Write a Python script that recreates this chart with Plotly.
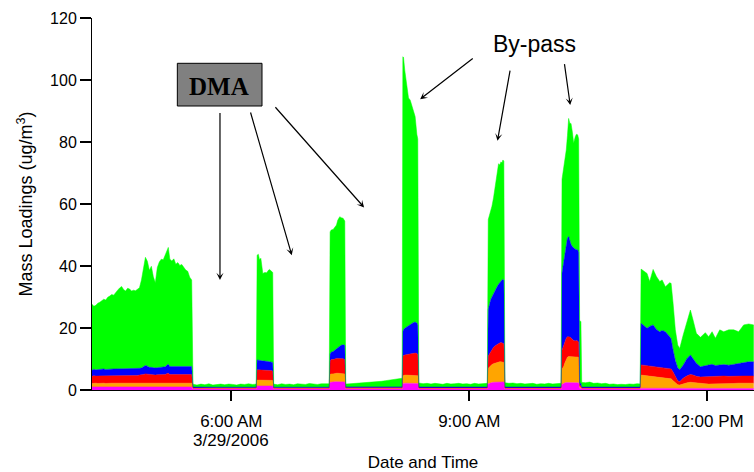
import plotly.graph_objects as go
from datetime import datetime, timedelta

DAY = datetime(2006, 3, 29)

# Sample times, minutes after midnight on 3/29/2006
t_min = [
    # by-pass period 1
    254.6, 256.0, 257.5, 259.0, 260.5, 262.0, 263.5, 265.0, 266.5, 268.0,
    269.5, 271.0, 272.5, 274.0, 275.5, 277.0, 278.5, 280.0, 281.5, 283.0,
    284.5, 286.0, 287.5, 289.0, 290.5, 292.0, 293.5, 295.0, 296.5, 298.0,
    299.5, 301.0, 302.5, 304.0, 305.5, 307.0, 308.5, 310.0, 311.5, 312.3,
    313.5, 315.0, 316.5, 318.0, 319.5, 321.0, 322.5, 324.0, 325.5, 327.0,
    328.5, 330.0,
    # DMA 1
    331.0, 334.0, 337.0, 340.0, 343.0, 346.0, 349.0, 352.0, 355.0, 358.0,
    361.0, 364.0, 367.0, 370.0, 373.0, 376.0, 378.8,
    # by-pass 2
    379.5, 380.4, 381.3, 382.3, 383.2, 383.8, 385.3, 386.8, 388.0, 388.8,
    390.6, 391.3,
    # DMA 2
    392.0, 395.0, 398.0, 401.0, 404.0, 407.0, 410.0, 413.0, 416.0, 419.0,
    422.0, 425.0, 428.0, 431.0, 434.0,
    # by-pass 3
    434.7, 435.5, 437.0, 438.5, 439.5, 440.5, 442.0, 443.0, 444.5, 445.8,
    # DMA 3
    446.5, 449.5, 452.5, 455.5, 458.5, 461.5, 464.5, 467.5, 470.5, 473.5,
    476.5, 479.5, 482.5, 485.5, 488.5, 489.2,
    # by-pass 4
    489.7, 490.2, 491.2, 492.2, 493.2, 494.0, 495.3, 496.5, 497.8, 499.0,
    500.3, 501.0,
    # DMA 4
    501.8, 505.0, 508.0, 511.0, 514.0, 517.0, 520.0, 523.0, 526.0, 529.0,
    532.0, 535.0, 538.0, 541.0, 544.0, 547.0, 550.0, 553.6,
    # by-pass 5
    554.3, 555.3, 556.2, 557.1, 558.3, 559.6, 560.9, 562.1, 563.0, 563.9,
    564.7, 565.4, 566.1,
    # DMA 5
    566.9, 570.0, 573.0, 576.0, 579.0, 582.0, 585.0, 588.0, 591.0, 594.0,
    597.0, 600.0, 603.0, 606.0, 609.4,
    # by-pass 6
    610.1, 611.3, 612.3, 613.3, 614.2, 615.1, 616.0, 616.9, 618.0, 618.9,
    620.1, 621.0, 621.9, 622.7, 623.4, 624.4,
    # DMA 6
    625.0, 628.0, 631.0, 634.0, 637.0, 640.0, 643.0, 646.0, 649.0, 652.0,
    655.0, 658.0, 661.0, 664.0, 667.0, 669.2,
    # by-pass 7
    669.9, 671.8, 674.4, 676.4, 679.0, 681.5, 684.0, 685.8, 688.3, 691.5,
    692.6, 694.1, 695.8, 697.6, 699.1, 701.7, 704.7, 707.2, 709.2, 711.7,
    714.8, 718.5, 721.0, 723.6, 726.1, 729.4, 732.4, 736.2, 740.0, 743.7,
    747.5, 751.3, 755.1,
]

# Chloride (ug/m3)
chl = [
    1.0, 1.0, 1.0, 1.0, 1.0, 1.0, 1.0, 1.0, 1.0, 1.0,
    1.0, 1.0, 1.0, 1.0, 1.0, 1.0, 1.0, 1.0, 1.0, 1.0,
    1.0, 1.0, 1.0, 1.0, 1.0, 1.0, 1.0, 1.0, 1.0, 1.0,
    1.0, 1.0, 1.0, 1.0, 1.0, 1.0, 1.0, 1.0, 1.0, 1.0,
    1.0, 1.0, 1.0, 1.0, 1.0, 1.0, 1.0, 1.0, 1.0, 1.0,
    1.0, 1.0,
    0.5, 0.5, 0.5, 0.5, 0.5, 0.5, 0.5, 0.5, 0.5, 0.5,
    0.5, 0.5, 0.5, 0.5, 0.5, 0.5, 0.5,
    1.3, 1.3, 1.3, 1.3, 1.3, 1.3, 1.3, 1.3, 1.3, 1.3,
    1.3, 1.3,
    0.5, 0.5, 0.5, 0.5, 0.5, 0.5, 0.5, 0.5, 0.5, 0.5,
    0.5, 0.5, 0.5, 0.5, 0.5,
    2.5, 2.6, 2.6, 2.7, 2.7, 2.7, 2.7, 2.7, 2.7, 2.6,
    0.5, 0.5, 0.5, 0.5, 0.5, 0.5, 0.5, 0.5, 0.5, 0.5,
    0.5, 0.5, 0.5, 0.5, 0.5, 0.5,
    2.0, 2.1, 2.2, 2.2, 2.2, 2.2, 2.2, 2.2, 2.2, 2.2,
    2.2, 2.1,
    0.5, 0.5, 0.5, 0.5, 0.5, 0.5, 0.5, 0.5, 0.5, 0.5,
    0.5, 0.5, 0.5, 0.5, 0.5, 0.5, 0.5, 0.5,
    2.0, 2.2, 2.3, 2.4, 2.5, 2.5, 2.6, 2.6, 2.7, 2.7,
    2.7, 2.7, 2.6,
    0.5, 0.5, 0.5, 0.5, 0.5, 0.5, 0.5, 0.5, 0.5, 0.5,
    0.5, 0.5, 0.5, 0.5, 0.5,
    1.8, 2.2, 2.3, 2.4, 2.4, 2.5, 2.5, 2.5, 2.4, 2.4,
    2.4, 2.4, 2.4, 2.3, 0.6, 0.6,
    0.5, 0.5, 0.5, 0.5, 0.5, 0.5, 0.5, 0.5, 0.5, 0.5,
    0.5, 0.5, 0.5, 0.5, 0.5, 0.5,
    0.5, 0.5, 0.5, 0.5, 0.5, 0.5, 0.5, 0.5, 0.5, 0.5,
    0.5, 0.5, 0.5, 0.5, 0.5, 0.5, 0.5, 0.5, 0.5, 0.5,
    0.5, 0.5, 0.5, 0.5, 0.5, 0.5, 0.5, 0.5, 0.5, 0.5,
    0.5, 0.5, 0.5,
]

# Ammonium (ug/m3)
nh4 = [
    1.1, 1.2, 1.2, 1.1, 1.2, 1.2, 1.2, 1.1, 1.2, 1.2,
    1.2, 1.2, 1.2, 1.2, 1.2, 1.2, 1.2, 1.2, 1.2, 1.2,
    1.2, 1.2, 1.2, 1.2, 1.2, 1.2, 1.3, 1.3, 1.3, 1.2,
    1.2, 1.2, 1.2, 1.2, 1.2, 1.2, 1.2, 1.2, 1.3, 1.3,
    1.2, 1.2, 1.2, 1.2, 1.2, 1.2, 1.2, 1.2, 1.2, 1.2,
    1.2, 1.2,
    0.05, 0.05, 0.05, 0.05, 0.05, 0.05, 0.05, 0.05, 0.05, 0.05,
    0.05, 0.05, 0.05, 0.05, 0.05, 0.05, 0.05,
    1.9, 1.9, 1.9, 1.9, 1.9, 1.9, 1.9, 1.9, 1.9, 1.9,
    1.8, 1.8,
    0.05, 0.05, 0.05, 0.05, 0.05, 0.05, 0.05, 0.05, 0.05, 0.05,
    0.05, 0.05, 0.05, 0.05, 0.05,
    2.5, 2.6, 2.6, 2.7, 2.7, 2.7, 2.7, 2.7, 2.7, 2.6,
    0.05, 0.05, 0.05, 0.05, 0.05, 0.05, 0.05, 0.05, 0.05, 0.05,
    0.05, 0.05, 0.05, 0.05, 0.05, 0.05,
    2.5, 2.6, 2.6, 2.6, 2.6, 2.6, 2.6, 2.6, 2.6, 2.6,
    2.6, 2.5,
    0.05, 0.05, 0.05, 0.05, 0.05, 0.05, 0.05, 0.05, 0.05, 0.05,
    0.05, 0.05, 0.05, 0.05, 0.05, 0.05, 0.05, 0.05,
    5.0, 5.3, 5.5, 5.8, 6.0, 6.2, 6.3, 6.4, 6.4, 6.4,
    6.4, 6.4, 6.3,
    0.05, 0.05, 0.05, 0.05, 0.05, 0.05, 0.05, 0.05, 0.05, 0.05,
    0.05, 0.05, 0.05, 0.05, 0.05,
    5.0, 5.3, 6.5, 7.5, 8.2, 8.3, 8.3, 8.3, 8.3, 8.4,
    8.4, 8.4, 8.4, 8.3, 0.4, 0.4,
    0.05, 0.05, 0.05, 0.05, 0.05, 0.05, 0.05, 0.05, 0.05, 0.05,
    0.05, 0.05, 0.05, 0.05, 0.05, 0.05,
    4.3, 4.2, 4.1, 4.0, 3.9, 3.8, 3.7, 3.6, 3.5, 3.3,
    3.1, 2.5, 1.7, 1.2, 1.1, 1.5, 1.8, 2.0, 1.9, 1.6,
    1.5, 1.5, 1.4, 1.4, 1.5, 1.5, 1.6, 1.6, 1.6, 1.7,
    1.7, 1.7, 1.7,
]

# Sulfate (ug/m3)
so4 = [
    2.3, 2.4, 2.3, 2.4, 2.4, 2.3, 2.4, 2.4, 2.5, 2.4,
    2.4, 2.5, 2.4, 2.5, 2.5, 2.4, 2.5, 2.5, 2.4, 2.5,
    2.5, 2.5, 2.4, 2.5, 2.6, 2.6, 2.7, 2.9, 2.8, 2.7,
    2.7, 2.6, 2.6, 2.7, 2.7, 2.7, 2.7, 2.8, 3.0, 3.1,
    2.8, 2.8, 2.8, 2.8, 2.9, 2.9, 2.9, 2.9, 2.9, 2.9,
    2.9, 2.8,
    0.1, 0.1, 0.1, 0.1, 0.1, 0.1, 0.1, 0.1, 0.1, 0.1,
    0.1, 0.1, 0.1, 0.1, 0.1, 0.1, 0.1,
    3.3, 3.3, 3.3, 3.2, 3.2, 3.2, 3.2, 3.2, 3.1, 3.1,
    3.1, 3.0,
    0.1, 0.1, 0.1, 0.1, 0.1, 0.1, 0.1, 0.1, 0.1, 0.1,
    0.1, 0.1, 0.1, 0.1, 0.1,
    4.4, 4.6, 4.6, 4.7, 4.8, 4.8, 4.8, 4.8, 4.7, 4.6,
    0.15, 0.15, 0.15, 0.15, 0.15, 0.15, 0.15, 0.15, 0.15, 0.15,
    0.15, 0.15, 0.15, 0.15, 0.15, 0.15,
    6.2, 6.4, 6.5, 6.6, 6.7, 6.8, 6.9, 7.0, 7.1, 7.1,
    7.0, 6.9,
    0.1, 0.1, 0.1, 0.1, 0.1, 0.1, 0.1, 0.1, 0.1, 0.1,
    0.1, 0.1, 0.1, 0.1, 0.1, 0.1, 0.1, 0.1,
    4.0, 4.3, 4.6, 4.8, 5.3, 5.6, 5.8, 6.0, 6.1, 6.2,
    6.2, 6.0, 5.9,
    0.1, 0.1, 0.1, 0.1, 0.1, 0.1, 0.1, 0.1, 0.1, 0.1,
    0.1, 0.1, 0.1, 0.1, 0.1,
    6.0, 7.0, 7.0, 6.8, 6.6, 6.4, 6.3, 6.0, 5.5, 5.2,
    5.0, 5.2, 5.0, 4.8, 0.4, 0.4,
    0.1, 0.1, 0.1, 0.1, 0.1, 0.1, 0.1, 0.1, 0.1, 0.1,
    0.1, 0.1, 0.1, 0.1, 0.1, 0.1,
    3.3, 3.3, 3.3, 3.3, 3.3, 3.3, 3.2, 3.2, 3.2, 3.2,
    3.2, 2.8, 2.3, 1.3, 1.1, 1.8, 2.3, 2.5, 2.4, 2.3,
    2.2, 2.3, 2.5, 2.6, 2.4, 2.5, 2.4, 2.3, 2.4, 2.3,
    2.3, 2.3, 2.3,
]

# Nitrate (ug/m3)
no3 = [
    2.0, 2.1, 2.0, 2.1, 2.0, 2.1, 2.2, 2.1, 2.0, 2.1,
    2.2, 2.1, 2.2, 2.1, 2.2, 2.2, 2.1, 2.2, 2.2, 2.1,
    2.2, 2.2, 2.3, 2.2, 2.2, 2.3, 2.5, 2.7, 2.6, 2.4,
    2.4, 2.3, 2.3, 2.3, 2.4, 2.4, 2.4, 2.5, 2.8, 2.9,
    2.6, 2.6, 2.6, 2.6, 2.6, 2.6, 2.7, 2.7, 2.7, 2.7,
    2.7, 2.6,
    0.3, 0.25, 0.25, 0.25, 0.25, 0.25, 0.25, 0.25, 0.25, 0.25,
    0.25, 0.25, 0.25, 0.25, 0.25, 0.25, 0.25,
    3.2, 3.2, 3.1, 3.1, 3.0, 3.0, 3.0, 2.9, 2.9, 2.8,
    2.8, 2.8,
    0.25, 0.25, 0.25, 0.25, 0.25, 0.25, 0.25, 0.25, 0.25, 0.25,
    0.25, 0.25, 0.25, 0.25, 0.25,
    2.3, 2.4, 2.6, 2.9, 3.2, 3.5, 3.9, 4.2, 4.5, 4.6,
    0.3, 0.3, 0.3, 0.3, 0.3, 0.3, 0.3, 0.3, 0.3, 0.3,
    0.3, 0.3, 0.3, 0.3, 0.3, 0.3,
    8.0, 8.4, 8.6, 8.8, 9.0, 9.2, 9.5, 9.7, 9.9, 10.0,
    9.8, 9.5,
    0.3, 0.3, 0.3, 0.3, 0.3, 0.3, 0.3, 0.3, 0.3, 0.3,
    0.3, 0.3, 0.3, 0.3, 0.3, 0.3, 0.3, 0.3,
    15.0, 16.2, 16.8, 17.0, 17.4, 18.0, 18.5, 19.1, 19.5, 19.9,
    20.2, 20.6, 20.6,
    0.3, 0.3, 0.3, 0.3, 0.3, 0.3, 0.3, 0.3, 0.3, 0.3,
    0.3, 0.3, 0.3, 0.3, 0.3,
    25.0, 26.4, 28.0, 30.3, 31.8, 32.3, 31.0, 30.2, 30.0, 29.8,
    29.6, 29.3, 29.4, 29.0, 0.8, 0.8,
    0.3, 0.3, 0.3, 0.3, 0.3, 0.3, 0.3, 0.3, 0.3, 0.3,
    0.3, 0.3, 0.3, 0.3, 0.3, 0.3,
    13.4, 12.8, 12.0, 12.7, 13.3, 11.9, 11.4, 11.9, 11.6, 10.2,
    9.7, 7.1, 5.0, 4.2, 3.8, 4.2, 5.6, 6.3, 5.2, 4.2,
    3.3, 3.6, 3.7, 3.8, 3.5, 3.6, 3.7, 3.6, 3.8, 4.1,
    4.4, 4.6, 4.6,
]

# Organics (ug/m3)
org = [
    21.3, 20.3, 20.8, 21.4, 21.7, 22.3, 22.5, 22.4, 23.2, 23.6,
    24.0, 23.8, 24.8, 25.4, 26.0, 26.6, 25.6, 25.0, 26.0, 25.8,
    25.0, 25.3, 25.1, 25.5, 26.0, 28.4, 31.3, 34.9, 33.8, 31.3,
    32.6, 29.4, 27.5, 32.3, 34.0, 34.9, 34.7, 36.0, 37.3, 37.7,
    34.6, 34.0, 34.7, 33.0, 33.4, 32.5, 32.7, 31.7, 30.9, 30.5,
    28.6, 27.9,
    0.9, 0.7, 1.0, 0.8, 1.1, 0.7, 0.9, 1.0, 0.8, 1.0,
    0.9, 0.7, 1.0, 0.9, 1.1, 0.9, 1.0,
    33.8, 34.1, 32.4, 33.0, 30.6, 28.2, 28.5, 28.5, 29.4, 29.8,
    29.2, 29.0,
    1.0, 0.8, 1.1, 0.9, 1.0, 0.8, 1.1, 1.0, 0.9, 1.2,
    1.0, 0.9, 1.1, 1.0, 1.1,
    39.3, 39.4, 39.4, 39.5, 39.8, 41.1, 41.8, 41.2, 40.8, 40.1,
    0.9, 1.0, 1.1, 1.0, 1.2, 1.3, 1.4, 1.5, 1.7, 1.8,
    2.0, 2.2, 2.3, 2.6, 2.7, 2.8,
    88.8, 87.8, 83.1, 79.3, 75.0, 73.4, 72.3, 70.5, 68.5, 66.3,
    60.9, 60.0,
    1.3, 1.1, 1.2, 1.0, 1.2, 1.1, 0.9, 1.2, 1.0, 1.1,
    1.2, 1.0, 1.1, 0.9, 1.2, 1.0, 1.1, 1.2,
    29.0, 28.5, 29.3, 29.3, 30.8, 33.3, 36.3, 38.9, 37.9, 38.4,
    37.7, 38.5, 38.4,
    1.4, 1.2, 1.3, 1.1, 1.2, 1.0, 1.1, 1.2, 0.9, 1.1,
    1.0, 1.2, 1.0, 1.1, 1.2,
    30.2, 30.6, 29.7, 30.4, 33.0, 38.1, 37.9, 39.0, 36.8, 33.8,
    36.3, 37.2, 37.1, 36.6, 20.3, 19.8,
    1.5, 1.4, 1.6, 1.2, 1.3, 1.1, 1.2, 0.9, 1.0, 0.8,
    0.9, 0.8, 1.0, 0.9, 1.1, 1.0,
    17.5, 17.7, 17.7, 14.5, 17.9, 17.1, 16.2, 16.3, 14.5, 17.4,
    17.9, 15.1, 9.9, 7.3, 6.9, 9.7, 12.4, 14.5, 12.6, 9.7,
    9.5, 10.6, 9.1, 10.5, 8.8, 11.3, 10.6, 11.4, 11.1, 10.2,
    12.1, 12.2, 11.9,
]

tick_hours = [6, 9, 12]
tick_text = ["6:00 AM", "9:00 AM", "12:00 PM"]
date_label = "3/29/2006"
x_span_min = [254.6, 755.3]
y_ticks = [0, 20, 40, 60, 80, 100, 120]

# arrows: (tail minute, tail value, tip minute, tip value)
dma_arrows = [
    (351.4, 89.8, 351.4, 35.5),
    (374.2, 90.0, 405.7, 43.5),
    (392.3, 91.7, 460.4, 58.9),
]
bypass_arrows = [
    (543.7, 107.3, 502.8, 93.8),
    (571.0, 103.5, 561.3, 80.4),
    (611.8, 105.6, 616.3, 91.9),
]


def at(minute):
    return DAY + timedelta(minutes=minute)


times = [at(m) for m in t_min]

layers = [
    ("Chl", chl, "#FF00FF"),
    ("NH4", nh4, "#FFA500"),
    ("SO4", so4, "#FF0000"),
    ("NO3", no3, "#0000FF"),
    ("Org", org, "#00FF00"),
]

fig = go.Figure()
for name, vals, col in layers:
    fig.add_trace(go.Scatter(
        x=times, y=vals, name=name, mode="lines", stackgroup="ams",
        line=dict(width=0.5, color=col), fillcolor=col, hoverinfo="skip",
    ))

SANS = "Arial, Liberation Sans, sans-serif"

fig.update_layout(
    width=754, height=472,
    margin=dict(l=92, r=0, t=18, b=82),
    paper_bgcolor="white", plot_bgcolor="white",
    showlegend=False,
    font=dict(family=SANS, color="black"),
)
fig.update_xaxes(
    type="date",
    range=[at(x_span_min[0]), at(x_span_min[1])],
    tickmode="array",
    tickvals=[DAY + timedelta(hours=h) for h in tick_hours],
    ticktext=tick_text,
    ticks="outside", ticklen=10, tickwidth=1.5, tickcolor="black",
    ticklabelstandoff=6,
    showline=True, linecolor="black", linewidth=1,
    showgrid=False, zeroline=False,
    tickfont=dict(size=17, family=SANS, color="black"),
    title=dict(text="Date and Time", font=dict(size=17, family=SANS, color="black"),
               standoff=28),
)
fig.update_yaxes(
    range=[0, 120],
    tickmode="array", tickvals=y_ticks,
    ticks="outside", ticklen=11, tickwidth=1.5, tickcolor="black",
    showline=True, linecolor="black", linewidth=1,
    showgrid=False, zeroline=False,
    tickfont=dict(size=16, family=SANS, color="black"),
    title=dict(text="Mass Loadings (ug/m<sup>3</sup>)",
               font=dict(size=18, family=SANS, color="black"), standoff=12),
)

annotations = []
for tx, ty, hx, hy in dma_arrows + bypass_arrows:
    annotations.append(dict(
        x=at(hx), y=hy, xref="x", yref="y",
        ax=at(tx), ay=ty, axref="x", ayref="y",
        text="", showarrow=True, arrowhead=3, arrowsize=1.0,
        arrowwidth=1.2, arrowcolor="black", standoff=0, startstandoff=0,
    ))

annotations += [
    dict(x=DAY + timedelta(hours=tick_hours[0]), y=-0.137, xref="x", yref="paper",
         text=date_label, showarrow=False, xanchor="center", yanchor="middle",
         font=dict(family=SANS, size=17, color="black")),
    dict(x=0.1913, y=0.8159, xref="paper", yref="paper", text="<b>DMA</b>",
         showarrow=False, xanchor="center", yanchor="middle",
         font=dict(family="Times New Roman, Liberation Serif, serif", size=25, color="black")),
    dict(x=0.6687, y=0.9301, xref="paper", yref="paper", text="By-pass",
         showarrow=False, xanchor="center", yanchor="middle",
         font=dict(family=SANS, size=23, color="black")),
]

fig.update_layout(
    annotations=annotations,
    shapes=[dict(type="rect", xref="paper", yref="paper",
                 x0=0.1289, x1=0.2568, y0=0.7634, y1=0.8782,
                 fillcolor="#808080", line=dict(color="black", width=1),
                 layer="below")],
)

fig.write_html("out.html", config={"displayModeBar": False})
